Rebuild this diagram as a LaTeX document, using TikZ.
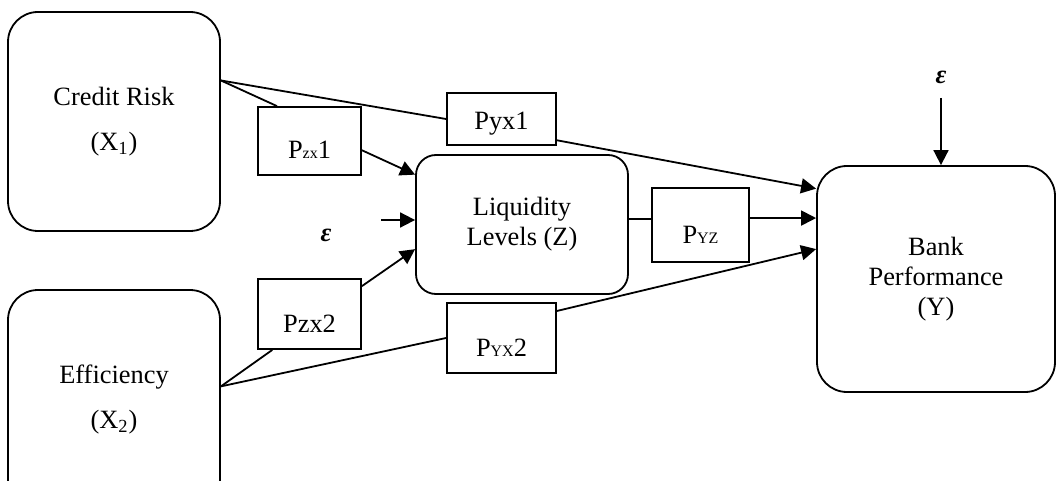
\documentclass[tikz,border=0pt]{standalone}
\usepackage{fontspec}
\setmainfont{Liberation Serif}
\usetikzlibrary{arrows.meta}
\newcommand{\smtxt}[1]{{\fontsize{8}{9}\selectfont #1}}
\newcommand{\errterm}{{\bfseries\itshape ε}}
\begin{document}
\begin{tikzpicture}[x=0.5pt,y=0.5pt,
  every node/.style={inner sep=0pt,font=\fontsize{13.2}{15}\selectfont},
  var/.style={draw,rounded corners=15pt,line width=0.9pt,minimum width=106pt,minimum height=109.5pt,align=center},
  pbox/.style={draw,line width=0.9pt,text height=18pt,text depth=0pt},
  link/.style={line width=0.9pt},
  arr/.style={line width=0.9pt,-{Triangle[length=7.5pt,width=7.5pt]}}]
\useasboundingbox (0,0) rectangle (1056,-481);
\node[var] (cr) at (114,-121.5) {Credit Risk\\[7.5pt](X\textsubscript{1})};
\node[var] (eff) at (114,-399.5) {Efficiency\\[7.5pt](X\textsubscript{2})};
\node[var,rounded corners=10pt,minimum height=69.5pt,text height=21.5pt,text depth=0pt] (liq) at (522,-224.5) {Liquidity\\Levels (Z)};
\node[var,minimum width=119pt,minimum height=113pt] (bank) at (936,-279) {Bank\\Performance\\(Y)};
\node[pbox,minimum width=51.5pt,minimum height=34pt] (pzx1) at (309.5,-141) {P\smtxt{zx}1};
\node[pbox,minimum width=54.5pt,minimum height=26pt,text height=11pt] (pyx1) at (501.5,-119) {Pyx1};
\node[pbox,minimum width=48.5pt,minimum height=37pt] (pyz) at (700.5,-225) {P\smtxt{YZ}};
\node[pbox,minimum width=51.5pt,minimum height=35pt] (pzx2) at (309.5,-314) {Pzx2};
\node[pbox,minimum width=54.5pt,minimum height=35pt] (pyx2) at (501.5,-338) {P\smtxt{YX}2};
\node (ey) at (941,-77) {\errterm};
\node (ez) at (326,-235) {\errterm};
\coordinate (eyarr) at (941,-98);
\coordinate (ezarr) at (381,-220);
\draw[link] (cr.21) -- (pzx1.133);
\draw[link] (cr.21) -- (pyx1.west);
\draw[arr] (pzx1.-10) -- (liq.155);
\draw[arr] (pyx1.-21) -- (bank.143);
\draw[link] (eff.7) -- (pzx2.224);
\draw[link] (eff.7) -- (pyx2.west);
\draw[arr] (pzx2.28) -- (liq.193);
\draw[arr] (pyx2.26) -- (bank.166);
\draw[link] (liq.3) -- (liq.3 -| pyz.west);
\draw[arr] (pyz.8) -- (pyz.8 -| bank.west);
\draw[arr] (eyarr) -- (eyarr |- bank.north);
\draw[arr] (ezarr) -- (ezarr -| liq.west);
\end{tikzpicture}
\end{document}
